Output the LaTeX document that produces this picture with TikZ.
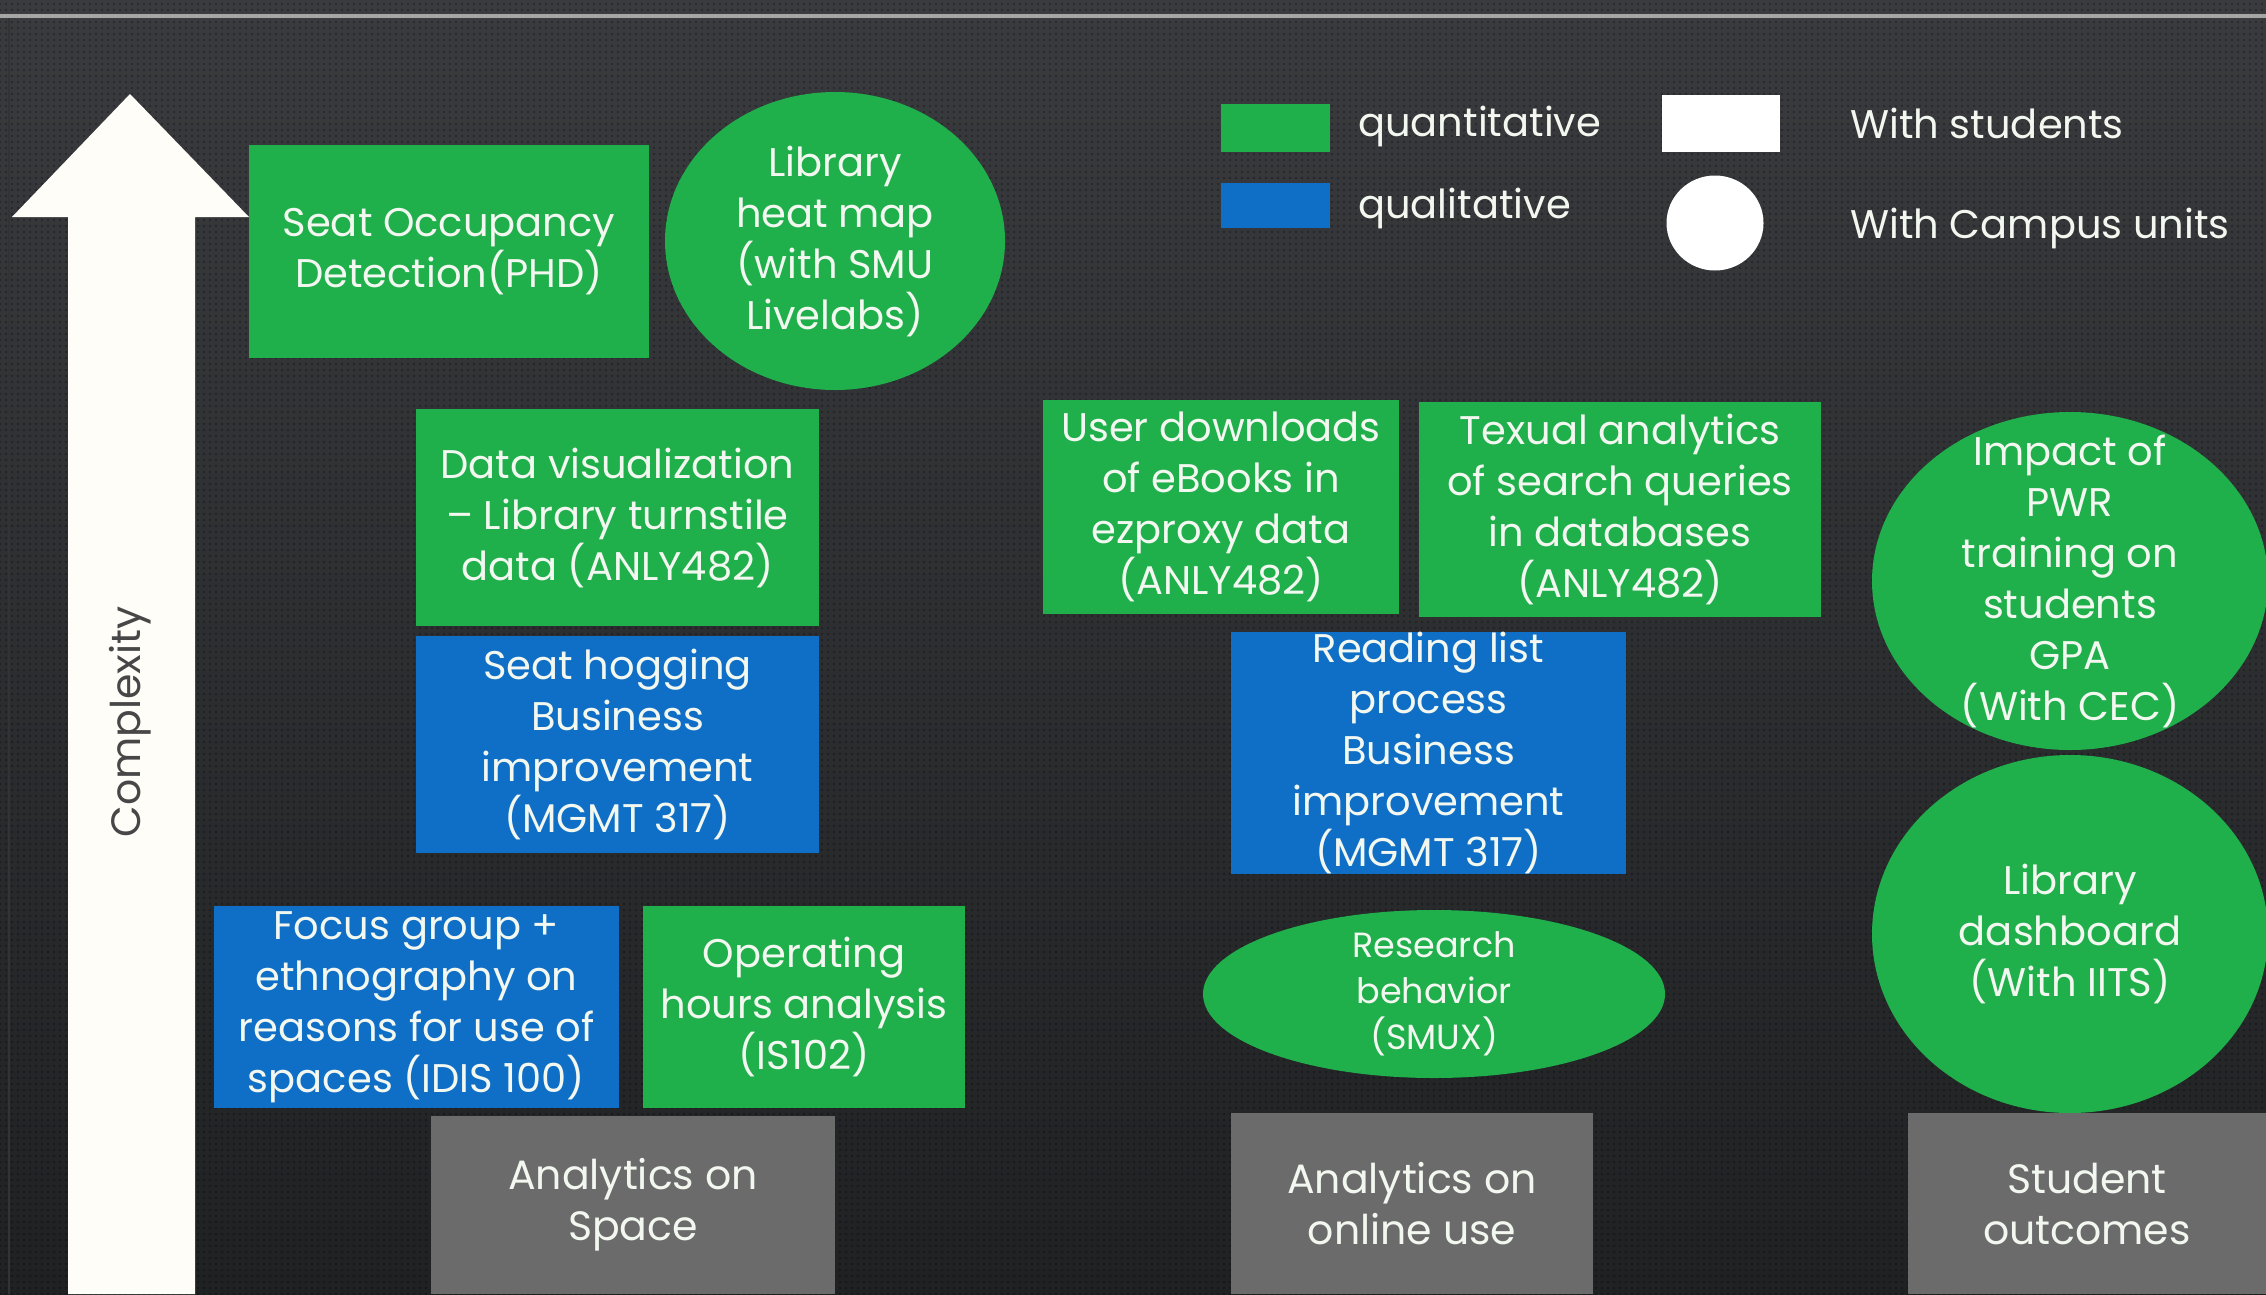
\documentclass[tikz,border=0pt]{standalone}
\usepackage{fontspec}
\setmainfont{Poppins}
\usetikzlibrary{shapes.geometric,patterns.meta}
\definecolor{bgtop}{HTML}{393B3E}
\definecolor{bgbot}{HTML}{202123}
\definecolor{qgreen}{HTML}{1FAF4B}
\definecolor{qblue}{HTML}{0F6FC6}
\definecolor{catgray}{HTML}{6B6B6B}
\definecolor{txt}{HTML}{F2F7F0}
\definecolor{arrowwhite}{HTML}{FFFDF8}
\tikzset{
  lbl/.style={text=txt, align=center, inner sep=0pt,
    font=\fontsize{40}{51}\selectfont},
  quant/.style={lbl, fill=qgreen, rectangle},
  qual/.style={lbl, fill=qblue, rectangle},
  quantell/.style={fill=qgreen, ellipse, inner sep=0pt},
  category/.style={lbl, fill=catgray, rectangle, font=\fontsize{41}{51}\selectfont},
  legendtxt/.style={text=txt, anchor=west, inner sep=0pt,
    font=\fontsize{40}{48}\selectfont},
}
\begin{document}
\begin{tikzpicture}[x=1pt,y=-1pt]
\useasboundingbox (0,0) rectangle (2266,1294);
\shade[top color=bgtop, bottom color=bgbot] (0,0) rectangle (2266,1294);
\fill[pattern={Dots[distance=6pt,radius=1.1pt]}, pattern color=black, opacity=0.35] (0,0) rectangle (2266,1294);
\draw[line width=4pt, color=gray!70] (0,16) -- (2266,16);
\draw[line width=2pt, color=black!80] (9,18) -- (9,1294);
% Complexity arrow
\fill[arrowwhite] (68,1294) -- (68,217) -- (12,217) -- (130,94) -- (249,217) -- (195,217) -- (195,1294) -- cycle;
\node[rotate=90, text=black!72, inner sep=0pt, font=\fontsize{41}{44}\selectfont] (cx) at (130,722) {Complexity};
% legend
\node[fill=qgreen, minimum width=109pt, minimum height=48pt, inner sep=0pt] (lg) at (1275.5,128) {};
\node[fill=qblue, minimum width=109pt, minimum height=45pt, inner sep=0pt] (lb) at (1275.5,205.5) {};
\node[legendtxt] (lgt) at (1358,126) {quantitative};
\node[legendtxt] (lbt) at (1358,208) {qualitative};
\node[fill=white, minimum width=118pt, minimum height=57pt, inner sep=0pt] (lw) at (1721,123.5) {};
\node[fill=white, ellipse, minimum width=97pt, minimum height=95pt, inner sep=0pt] (lc) at (1715,223) {};
\node[legendtxt] (lwt) at (1850,123) {With students};
\node[legendtxt] (lct) at (1850,228) {With Campus units};
% Space column
\node[quant, minimum width=400pt, minimum height=213pt] (seat) at (449,251.5) {Seat Occupancy\\Detection(PHD)};
\node[quantell, minimum width=340pt, minimum height=298pt] (heat) at (835,241) {};
\node[lbl] (heatt) at (heat) {Library\\heat map\\(with SMU\\Livelabs)};
\node[quant, minimum width=403pt, minimum height=217pt] (dataviz) at (617.5,517.5) {Data visualization\\-- Library turnstile\\data (ANLY482)};
\node[qual, minimum width=403pt, minimum height=217pt] (hog) at (617.5,744.5) {Seat hogging\\Business\\improvement\\(MGMT 317)};
\node[qual, minimum width=405pt, minimum height=202pt] (focus) at (416.5,1007) {Focus group +\\ethnography on\\reasons for use of\\spaces (IDIS 100)};
\node[quant, minimum width=322pt, minimum height=202pt] (oper) at (804,1007) {Operating\\hours analysis\\(IS102)};
\node[category, minimum width=404pt, minimum height=178pt] (space) at (633,1205) {Analytics on\\Space};
% Online column
\node[quant, minimum width=356pt, minimum height=214pt] (dl) at (1221,507) {User downloads\\of eBooks in\\ezproxy data\\(ANLY482)};
\node[quant, minimum width=402pt, minimum height=215pt] (tex) at (1620,509.5) {Texual analytics\\of search queries\\in databases\\(ANLY482)};
\node[qual, minimum width=395pt, minimum height=242pt] (read) at (1428.5,753) {Reading list\\process\\Business\\improvement\\(MGMT 317)};
\node[quantell, minimum width=462pt, minimum height=168pt] (research) at (1434,994) {};
\node[lbl, font=\fontsize{35}{46}\selectfont] (researcht) at (research) {Research\\behavior\\(SMUX)};
\node[category, minimum width=362pt, minimum height=181pt] (online) at (1412,1203.5) {Analytics on\\online use};
% Student outcomes column
\node[quantell, minimum width=396pt, minimum height=338pt] (impact) at (2070,581) {};
\node[lbl] (impactt) at (impact) {Impact of\\PWR\\training on\\students\\GPA\\(With CEC)};
\node[quantell, minimum width=396pt, minimum height=358pt] (dash) at (2070,934) {};
\node[lbl] (dasht) at (dash) {Library\\dashboard\\(With IITS)};
\node[category, minimum width=358pt, minimum height=181pt] (outc) at (2087,1203.5) {Student\\outcomes};
\end{tikzpicture}
\end{document}
